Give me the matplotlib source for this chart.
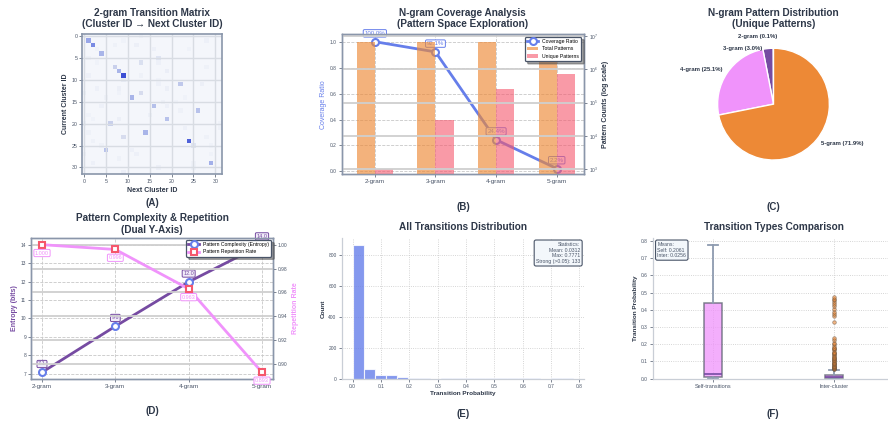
import numpy as np
import matplotlib
matplotlib.use('Agg')
import matplotlib.pyplot as plt
from matplotlib.colors import LinearSegmentedColormap
from matplotlib.ticker import NullLocator

# ---------------- data ----------------
n_clusters = 32
base_prob = 0.015
# (row, col, probability) for the visible transitions
strong_cells = [
    (1, 1, 0.45), (2, 2, 0.55), (4, 4, 0.40), (5, 17, 0.18), (6, 13, 0.22),
    (7, 7, 0.30), (8, 8, 0.40), (9, 9, 0.777), (10, 9, 0.12), (11, 22, 0.33),
    (13, 13, 0.25), (14, 11, 0.40), (16, 16, 0.36), (17, 26, 0.35),
    (19, 19, 0.35), (20, 6, 0.30), (22, 14, 0.40), (23, 9, 0.25),
    (24, 24, 0.70), (25, 25, 0.18), (26, 5, 0.35), (29, 29, 0.42),
]
faint_cells = [
    (0, 13, 0.06), (1, 9, 0.05), (1, 28, 0.07), (2, 7, 0.06), (2, 12, 0.08),
    (3, 16, 0.07), (3, 24, 0.05), (5, 1, 0.06), (6, 3, 0.05), (6, 17, 0.07),
    (7, 28, 0.06), (8, 19, 0.09), (9, 1, 0.07), (9, 13, 0.06), (10, 17, 0.05),
    (11, 17, 0.07), (11, 27, 0.08), (12, 3, 0.07), (12, 8, 0.08), (12, 19, 0.08),
    (13, 0, 0.07), (13, 8, 0.05), (14, 5, 0.06), (14, 23, 0.05), (15, 18, 0.06),
    (15, 21, 0.05), (16, 4, 0.07), (16, 19, 0.07), (17, 22, 0.06), (18, 1, 0.05),
    (18, 15, 0.07), (19, 8, 0.08), (19, 2, 0.05), (20, 0, 0.07), (20, 31, 0.05),
    (21, 23, 0.07), (21, 31, 0.06), (22, 1, 0.06), (23, 28, 0.06), (24, 2, 0.06),
    (25, 4, 0.06), (25, 29, 0.05), (26, 11, 0.07), (27, 0, 0.06), (27, 12, 0.07),
    (27, 29, 0.05), (28, 8, 0.06), (29, 2, 0.07), (29, 25, 0.06), (30, 17, 0.08),
    (30, 25, 0.07), (31, 9, 0.09), (0, 0, 0.05), (3, 3, 0.05), (10, 10, 0.05),
]

ngram_labels = ['2-gram', '3-gram', '4-gram', '5-gram']
coverage_ratio = [1.000, 0.921, 0.244, 0.022]
total_patterns = [6.76e6, 6.76e6, 6.76e6, 6.76e6]
unique_patterns = [1024, 30180, 256300, 734496]

entropy_bits = [7.07, 9.57, 11.98, 14.0]
repetition_rate = [1.000, 0.996, 0.963, 0.893]

hist_counts = [865, 65, 26, 22, 9, 4, 2, 1, 2, 3, 3, 4, 4, 2, 2, 3, 2, 1, 2, 2]
prob_max = 0.7771
stat_mean = 0.0312
stat_strong = 133

self_box = dict(label='Self-transitions', whislo=0.006, q1=0.012, med=0.027,
                q3=0.438, whishi=0.777, fliers=[])
inter_outliers = [0.055, 0.058, 0.060, 0.063, 0.066, 0.070, 0.073, 0.076, 0.080,
                  0.083, 0.087, 0.090, 0.094, 0.098, 0.102, 0.106, 0.110, 0.114,
                  0.118, 0.122, 0.127, 0.132, 0.137, 0.142, 0.147, 0.152, 0.158,
                  0.164, 0.170, 0.176, 0.180, 0.190, 0.200, 0.210, 0.225, 0.238,
                  0.328, 0.365, 0.375, 0.390, 0.405, 0.420, 0.435, 0.445, 0.455,
                  0.465, 0.475]
inter_box = dict(label='Inter-cluster', whislo=0.0, q1=0.002, med=0.008,
                 q3=0.022, whishi=0.052, fliers=inter_outliers)
mean_self = 0.2061
mean_inter = 0.0256

# ---------------- style ----------------
c_blue = '#667eea'
c_purple = '#764ba2'
c_pink = '#f093fb'
c_red = '#f5576c'
c_orange = '#ed8936'
c_title = '#2d3748'
c_tick = '#4a5568'
c_spine = '#8a96aa'

plt.rcParams['font.family'] = ['Liberation Sans', 'DejaVu Sans']
plt.rcParams['axes.titleweight'] = 'bold'
plt.rcParams['axes.titlecolor'] = c_title
plt.rcParams['xtick.color'] = c_tick
plt.rcParams['ytick.color'] = c_tick
plt.rcParams['xtick.major.size'] = 2
plt.rcParams['ytick.major.size'] = 2
plt.rcParams['xtick.major.width'] = 0.5
plt.rcParams['ytick.major.width'] = 0.5
plt.rcParams['xtick.major.pad'] = 1.5
plt.rcParams['ytick.major.pad'] = 1.5

TITLE = 7.2
LABEL = 5.0
TICK = 3.5
CAT = 4.6

W, H = 888, 421
fig = plt.figure(figsize=(W / 100, H / 100), dpi=100)


def box(x0, x1, top, bottom):
    return [x0 / W, 1 - bottom / H, (x1 - x0) / W, (bottom - top) / H]


cols = [(31, 273), (341.5, 584), (652.5, 894.5)]
row1 = (34.3, 174)
row2 = (238.3, 378.7)


def style_spines(ax, color, lw=0.9, hide=()):
    for name, sp in ax.spines.items():
        if name in hide:
            sp.set_visible(False)
        else:
            sp.set_color(color)
            sp.set_linewidth(lw)


# ---- (A) transition matrix ----
ax_a = fig.add_axes(box(*cols[0], *row1))
mat = np.full((n_clusters, n_clusters), base_prob)
for r, c, v in faint_cells + strong_cells:
    mat[r, c] = v
cmap = LinearSegmentedColormap.from_list(
    'trans', ['#f6f8fc', '#d6dcee', '#8394e6', '#3c4ed4'])
ax_a.imshow(mat, cmap=cmap, vmin=0, vmax=0.777, interpolation='nearest', aspect='equal')
ax_a.set_xticks(range(0, 31, 5))
ax_a.set_yticks(range(0, 31, 5))
ax_a.grid(True, color='#d8dce3', lw=1.0)
ax_a.tick_params(labelsize=TICK + 0.3)
ax_a.set_xlabel('Next Cluster ID', fontsize=LABEL, fontweight='bold', color=c_title, labelpad=2)
ax_a.set_ylabel('Current Cluster ID', fontsize=LABEL, fontweight='bold', color=c_title, labelpad=2)
ax_a.set_title('2-gram Transition Matrix\n(Cluster ID \u2192 Next Cluster ID)', fontsize=TITLE, pad=5)
style_spines(ax_a, c_spine, 1.2)

# ---- (B) coverage ----
ax_b = fig.add_axes(box(*cols[1], *row1))
x = np.arange(len(ngram_labels))
ax_b.plot(x, coverage_ratio, '-o', color=c_blue, lw=2, ms=5, mfc='white',
          mec=c_blue, mew=1.5, label='Coverage Ratio')
for xi, cv in zip(x, coverage_ratio):
    ax_b.annotate(f'{cv * 100:.1f}%', (xi, cv), xytext=(0, 6), textcoords='offset points',
                  ha='center', va='center', fontsize=4.4, color=c_blue,
                  bbox=dict(boxstyle='round,pad=0.2', fc='white', ec=c_blue, lw=0.7))
ax_b.set_ylim(-0.02, 1.057)
ax_b.set_xlim(-0.55, 3.45)
ax_b.set_xticks(x)
ax_b.set_xticklabels(ngram_labels, fontsize=CAT)
ax_b.tick_params(axis='y', labelsize=TICK)
ax_b.set_ylabel('Coverage Ratio', fontsize=LABEL, color=c_blue, labelpad=2)
ax_b.grid(True, ls='--', color='#c8c8c8', lw=0.6)
ax_b.set_title('N-gram Coverage Analysis\n(Pattern Space Exploration)', fontsize=TITLE, pad=5)

ax_b2 = ax_b.twinx()
ax_b2.bar(x - 0.15, total_patterns, 0.3, color=c_orange, alpha=0.65, label='Total Patterns')
ax_b2.bar(x + 0.15, unique_patterns, 0.3, color=c_red, alpha=0.6, label='Unique Patterns')
ax_b2.set_yscale('log')
ax_b2.set_ylim(10 ** 2.86, 10 ** 7.05)
ax_b2.yaxis.set_minor_locator(NullLocator())
ax_b2.grid(True, color='#cfcfcf', lw=1.3)
ax_b2.tick_params(axis='y', labelsize=TICK)
ax_b2.set_ylabel('Pattern Counts (log scale)', fontsize=LABEL, fontweight='bold', color=c_title, labelpad=3)
h1, l1 = ax_b.get_legend_handles_labels()
h2, l2 = ax_b2.get_legend_handles_labels()
leg = ax_b2.legend(h1 + h2, l1 + l2, loc='upper right', fontsize=3.7, frameon=True,
                   shadow=True, borderaxespad=0.5, handlelength=2.2)
leg.get_frame().set_edgecolor(c_tick)
leg.get_frame().set_linewidth(0.9)
for a in (ax_b, ax_b2):
    style_spines(a, c_spine, 1.0)

# ---- (C) pie ----
ax_c = fig.add_axes(box(*cols[2], *row1))
shares = np.array(unique_patterns) / np.sum(unique_patterns) * 100
pie_labels = [f'{n} ({p:.1f}%)' for n, p in zip(ngram_labels, shares)]
wedges, texts = ax_c.pie(unique_patterns, labels=pie_labels, startangle=90,
                         colors=[c_blue, c_purple, c_pink, c_orange],
                         wedgeprops=dict(edgecolor='white', linewidth=1.0),
                         textprops=dict(fontsize=4.3, fontweight='bold', color=c_title))
texts[0].set_position((0.06, 1.21))
texts[1].set_position((-0.21, 1.0))
ax_c.set_title('N-gram Pattern Distribution\n(Unique Patterns)', fontsize=TITLE, pad=5)

# ---- (D) complexity & repetition ----
ax_d = fig.add_axes(box(*cols[0], *row2))
ax_d.plot(x, entropy_bits, '-o', color=c_purple, lw=2, ms=5, mfc='white', mec=c_blue,
          mew=1.5, label='Pattern Complexity (Entropy)')
for xi, e in zip(x, entropy_bits):
    ax_d.annotate(f'{e:.1f}', (xi, e), xytext=(0, 6), textcoords='offset points',
                  ha='center', va='center', fontsize=4.0, color=c_purple,
                  bbox=dict(boxstyle='round,pad=0.2', fc='#f1ecf8', ec=c_purple, lw=0.7))
ax_d.set_xticks(x)
ax_d.set_xticklabels(ngram_labels, fontsize=CAT)
ax_d.tick_params(axis='y', labelsize=TICK)
ax_d.set_ylabel('Entropy (bits)', fontsize=LABEL, fontweight='bold', color=c_purple, labelpad=2)
ax_d.grid(True, ls='--', color='#c8c8c8', lw=0.6)
ax_d.set_title('Pattern Complexity & Repetition\n(Dual Y-Axis)', fontsize=TITLE, pad=4)

ax_d2 = ax_d.twinx()
ax_d2.plot(x, repetition_rate, '-s', color=c_pink, lw=2, ms=5, mfc='white', mec=c_red,
           mew=1.5, label='Pattern Repetition Rate')
for xi, rr in zip(x, repetition_rate):
    ax_d2.annotate(f'{rr:.3f}', (xi, rr), xytext=(0, -6), textcoords='offset points',
                   ha='center', va='center', fontsize=4.0, color=c_pink,
                   bbox=dict(boxstyle='round,pad=0.2', fc='white', ec=c_pink, lw=0.7))
ax_d2.grid(True, color='#cfcfcf', lw=1.3)
ax_d2.tick_params(axis='y', labelsize=TICK)
ax_d2.set_ylabel('Repetition Rate', fontsize=LABEL, fontweight='bold', color=c_pink, labelpad=3)
h1, l1 = ax_d.get_legend_handles_labels()
h2, l2 = ax_d2.get_legend_handles_labels()
leg = ax_d2.legend(h1 + h2, l1 + l2, loc='upper right', fontsize=3.7, frameon=True,
                   shadow=True, borderaxespad=0.3, handlelength=2.2)
leg.get_frame().set_edgecolor(c_tick)
leg.get_frame().set_linewidth(0.9)
for a in (ax_d, ax_d2):
    style_spines(a, c_spine, 1.0)

# ---- (E) histogram ----
ax_e = fig.add_axes(box(*cols[1], *row2))
edges = np.linspace(0, prob_max, len(hist_counts) + 1)
ax_e.bar(edges[:-1], hist_counts, width=np.diff(edges), align='edge', color=c_blue,
         alpha=0.8, edgecolor='white', linewidth=0.8)
ax_e.set_xlim(-0.0389, 0.816)
ax_e.tick_params(labelsize=TICK)
ax_e.set_xlabel('Transition Probability', fontsize=4.6, fontweight='bold', color=c_title, labelpad=2)
ax_e.set_ylabel('Count', fontsize=4.6, fontweight='bold', color=c_title, labelpad=2)
ax_e.grid(True, ls=':', color='#c8c8c8', lw=0.6)
ax_e.set_axisbelow(True)
ax_e.set_title('All Transitions Distribution', fontsize=TITLE, pad=6)
ax_e.text(0.985, 0.975,
          f'Statistics:\nMean: {stat_mean:.4f}\nMax: {prob_max:.4f}\nStrong (>0.05): {stat_strong}',
          transform=ax_e.transAxes, ha='right', va='top', fontsize=3.7, color=c_tick,
          multialignment='right',
          bbox=dict(boxstyle='round,pad=0.35', fc='#f3f7fb', ec=c_tick, lw=0.8))
style_spines(ax_e, '#c9ced6', 0.9, hide=('top', 'right'))

# ---- (F) box plot ----
ax_f = fig.add_axes(box(*cols[2], *row2))
ax_f.bxp([self_box, inter_box], positions=[1, 2], widths=0.15, patch_artist=True,
         boxprops=dict(facecolor=c_pink, alpha=0.75, edgecolor='#555d6b', linewidth=1.1),
         medianprops=dict(color=c_purple, linewidth=1.2),
         whiskerprops=dict(color='#8e9bb0', linewidth=1.3),
         capprops=dict(color='#8e9bb0', linewidth=1.3),
         flierprops=dict(marker='o', markerfacecolor=c_orange, markeredgecolor='#5a4a3a',
                         markersize=2.6, alpha=0.6, markeredgewidth=0.5))
ax_f.set_xlim(0.5, 2.5)
ax_f.set_ylim(0, 0.816)
ax_f.tick_params(axis='y', labelsize=TICK)
ax_f.tick_params(axis='x', labelsize=4.0)
ax_f.set_ylabel('Transition Probability', fontsize=4.6, fontweight='bold', color=c_title, labelpad=2)
ax_f.grid(True, ls=':', color='#c8c8c8', lw=0.6)
ax_f.set_axisbelow(True)
ax_f.set_title('Transition Types Comparison', fontsize=TITLE, pad=6)
ax_f.text(0.02, 0.975, f'Means:\nSelf: {mean_self:.4f}\nInter: {mean_inter:.4f}',
          transform=ax_f.transAxes, ha='left', va='top', fontsize=3.7, color=c_tick,
          bbox=dict(boxstyle='round,pad=0.35', fc='#f3f7fb', ec=c_tick, lw=0.8))
style_spines(ax_f, '#c9ced6', 0.9, hide=('top', 'right'))

# ---- panel letters ----
for letter, px, py in [('(A)', 152, 203), ('(B)', 463, 207), ('(C)', 773, 207),
                       ('(D)', 152, 411), ('(E)', 463, 414), ('(F)', 773, 414)]:
    fig.text(px / W, 1 - py / H, letter, ha='center', va='center', fontsize=7,
             fontweight='bold', color=c_title)

fig.savefig('out.png', dpi=100)
